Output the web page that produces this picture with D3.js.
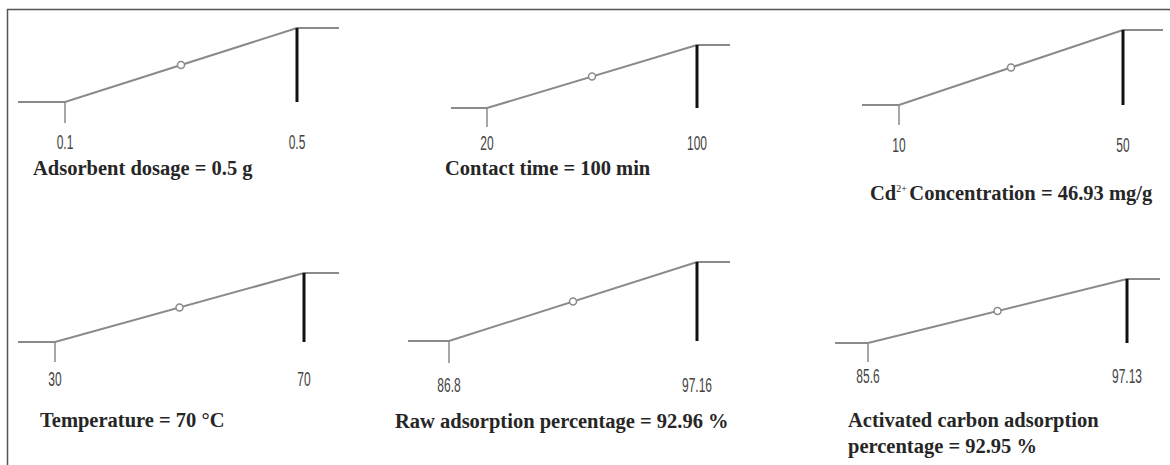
<!DOCTYPE html>
<html lang="en">
<head>
<meta charset="utf-8">
<script src="https://cdn.jsdelivr.net/npm/d3@7"></script>
<title>Optimization plot</title>
<style>
  body { margin: 0; background: #fff; }
  .curve { fill: none; stroke: #8a8a8a; stroke-width: 2; }
  .tick-mark { stroke: #8a8a8a; stroke-width: 1.5; }
  .setting { stroke: #111; stroke-width: 3; }
  .center { fill: #fff; stroke: #8a8a8a; stroke-width: 1.5; }
  .lbl { font-family: "Liberation Sans", Arial, sans-serif; font-size: 20px; fill: #444; }
  .title { font-family: "Liberation Serif", "DejaVu Serif", serif; font-weight: bold; font-size: 20.5px; fill: #262626; }
</style>
</head>
<body>
<div id="chart"></div>
<script>
// values
var factors   = ["Adsorbent dosage", "Contact time", "Cd2+ Concentration", "Temperature",
                 "Raw adsorption percentage", "Activated carbon adsorption percentage"];
var lows      = [0.1, 20, 10, 30, 86.8, 85.6];
var highs     = [0.5, 100, 50, 70, 97.16, 97.13];
var lowLabels = ["0.1", "20", "10", "30", "86.8", "85.6"];
var highLabels= ["0.5", "100", "50", "70", "97.16", "97.13"];
var settings  = [0.5, 100, 50, 70, 97.16, 97.13];
var titleLines = [
  ["Adsorbent dosage = 0.5 g"],
  ["Contact time = 100 min"],
  ["Cd|2+| Concentration = 46.93 mg/g"],
  ["Temperature = 70 °C"],
  ["Raw adsorption percentage = 92.96 %"],
  ["Activated carbon adsorption", "percentage = 92.95 %"]
];

// panel geometry (pixels)
var layout = [
  {xL: 65,  xH: 297,  y0: 102, y1: 28,  padL: 47, padR: 42, tickB: 123, labY: 149, tx: 33,  ty: 175},
  {xL: 487, xH: 697,  y0: 108, y1: 45,  padL: 36, padR: 33, tickB: 127, labY: 150, tx: 445, ty: 175},
  {xL: 899, xH: 1123, y0: 105, y1: 30,  padL: 37, padR: 40, tickB: 125, labY: 152, tx: 870, ty: 200},
  {xL: 55,  xH: 304,  y0: 342, y1: 273, padL: 37, padR: 35, tickB: 362, labY: 386, tx: 40,  ty: 427},
  {xL: 449, xH: 697,  y0: 341, y1: 262, padL: 41, padR: 33, tickB: 363, labY: 392, tx: 395, ty: 428},
  {xL: 868, xH: 1127, y0: 343, y1: 279, padL: 33, padR: 33, tickB: 362, labY: 383, tx: 848, ty: 427}
];

var width = 1170, height = 465;

var svg = d3.select("#chart").append("svg")
  .attr("width", width)
  .attr("height", height);

// frame
svg.append("path")
  .attr("d", "M7.5," + height + "V9.5H" + width)
  .attr("fill", "none")
  .attr("stroke", "#555")
  .attr("stroke-width", 1.5);

var line = d3.line();

factors.forEach(function(f, i) {
  var L = layout[i];
  var x = d3.scaleLinear().domain([lows[i], highs[i]]).range([L.xL, L.xH]);
  var y = d3.scaleLinear().domain([0, 1]).range([L.y0, L.y1]);
  var g = svg.append("g").attr("class", "panel");

  // desirability curve: flat at 0, ramp, flat at 1
  g.append("path")
    .attr("class", "curve")
    .attr("d", line([
      [x(lows[i]) - L.padL, y(0)],
      [x(lows[i]), y(0)],
      [x(highs[i]), y(1)],
      [x(highs[i]) + L.padR, y(1)]
    ]));

  // low tick
  g.append("line")
    .attr("class", "tick-mark")
    .attr("x1", x(lows[i])).attr("x2", x(lows[i]))
    .attr("y1", y(0)).attr("y2", L.tickB);

  // center point
  var mid = (lows[i] + highs[i]) / 2;
  g.append("circle")
    .attr("class", "center")
    .attr("cx", x(mid)).attr("cy", y(0.5))
    .attr("r", 3.5);

  // current setting
  g.append("line")
    .attr("class", "setting")
    .attr("x1", x(settings[i])).attr("x2", x(settings[i]))
    .attr("y1", y(1)).attr("y2", y(0));

  // end labels (narrow)
  [[lows[i], lowLabels[i]], [highs[i], highLabels[i]]].forEach(function(d) {
    g.append("text")
      .attr("class", "lbl")
      .attr("text-anchor", "middle")
      .attr("transform", "translate(" + x(d[0]) + "," + L.labY + ") scale(0.6,1)")
      .text(d[1]);
  });

  // title
  titleLines[i].forEach(function(t, k) {
    var txt = g.append("text")
      .attr("class", "title")
      .attr("x", L.tx)
      .attr("y", L.ty + k * 26);
    var parts = t.split("|");
    if (parts.length === 1) {
      txt.text(t);
    } else {
      txt.append("tspan").text(parts[0]);
      txt.append("tspan").attr("dy", -8).style("font-size", "10px").style("font-weight", "normal").text(parts[1] + " ");
      txt.append("tspan").attr("dy", 8).text(parts[2]);
    }
  });
});
</script>
</body>
</html>
